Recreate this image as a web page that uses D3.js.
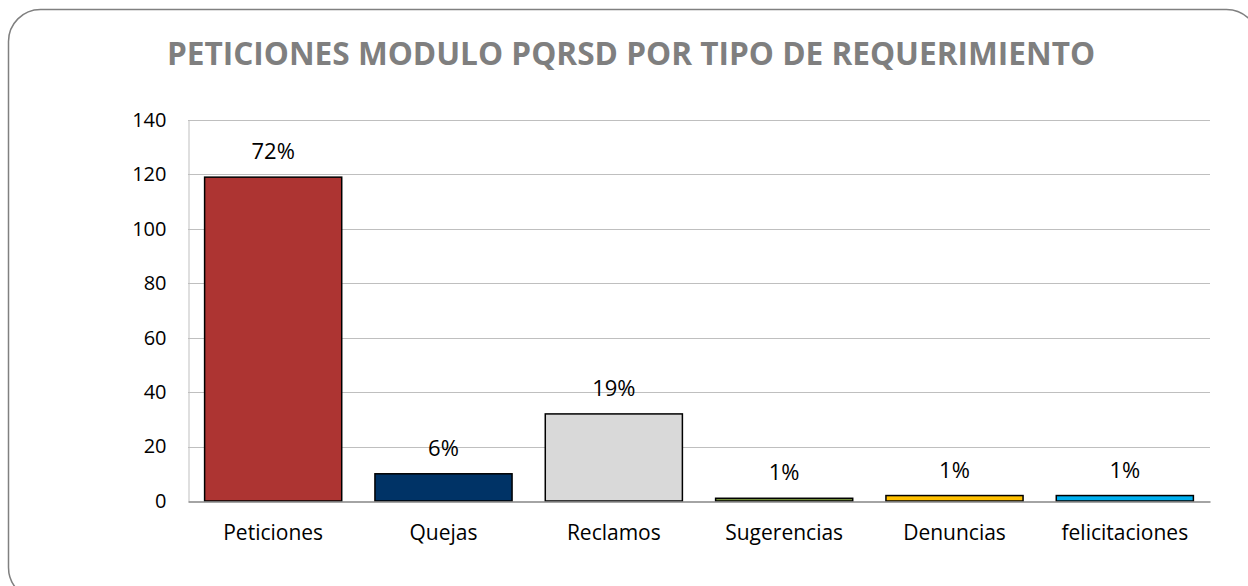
<!DOCTYPE html>
<html>
<head>
<meta charset="utf-8">
<script src="https://cdn.jsdelivr.net/npm/d3@7"></script>
<style>
  body { margin: 0; background: #fff; }
  svg { display: block; font-family: "Open Sans", Lato, sans-serif; }
</style>
</head>
<body>
<div id="chart"></div>
<script>
const categories = ["Peticiones", "Quejas", "Reclamos", "Sugerencias", "Denuncias", "felicitaciones"];
const counts = [119, 10, 32, 1, 2, 2];
const barColors = ["#AD3432", "#003366", "#D9D9D9", "#77933C", "#FFC000", "#00B0F0"];
const yTicks = [0, 20, 40, 60, 80, 100, 120, 140];
const title = "PETICIONES MODULO PQRSD POR TIPO DE REQUERIMIENTO";

const width = 1248;
const height = 586;
const margin = { top: 120, right: 38, bottom: 85, left: 188 };

const svg = d3.select("#chart")
  .append("svg")
  .attr("width", width)
  .attr("height", height);

// outer rounded frame
svg.append("rect")
  .attr("x", 8.5)
  .attr("y", 9.5)
  .attr("width", 1250)
  .attr("height", 590)
  .attr("rx", 32)
  .attr("fill", "#fff")
  .attr("stroke", "#808080")
  .attr("stroke-width", 1.5);

svg.append("text")
  .attr("x", 631)
  .attr("y", 65)
  .attr("text-anchor", "middle")
  .attr("font-size", "31.6px")
  .attr("font-weight", "bold")
  .attr("fill", "#7F7F7F")
  .text(title);

const x = d3.scaleBand()
  .domain(categories)
  .range([margin.left, width - margin.right])
  .paddingInner(0.195)
  .paddingOuter(0.0975);

const y = d3.scaleLinear()
  .domain([0, 140])
  .range([height - margin.bottom, margin.top]);

const total = d3.sum(counts);

// gridlines
svg.append("g")
  .selectAll("line")
  .data(yTicks.slice(1))
  .enter()
  .append("line")
  .attr("x1", margin.left)
  .attr("x2", width - margin.right)
  .attr("y1", (d) => Math.round(y(d)) + 0.5)
  .attr("y2", (d) => Math.round(y(d)) + 0.5)
  .attr("stroke", "#BFBFBF")
  .attr("stroke-width", 1);

// y axis
const yAxis = d3.axisLeft(y).tickValues(yTicks).tickSize(0).tickPadding(22);
const gy = svg.append("g")
  .attr("transform", `translate(${margin.left + 0.5},0)`)
  .call(yAxis);
gy.select(".domain").attr("stroke", "#BFBFBF");
gy.selectAll("text")
  .attr("font-size", "20px")
  .attr("fill", "#000")
  .attr("font-family", "'Open Sans', sans-serif");

// bars
svg.append("g")
  .selectAll("rect")
  .data(counts)
  .enter()
  .append("rect")
  .attr("x", (d, i) => x(categories[i]))
  .attr("y", (d) => y(d))
  .attr("width", x.bandwidth())
  .attr("height", (d) => y(0) - y(d))
  .attr("fill", (d, i) => barColors[i])
  .attr("stroke", "#000")
  .attr("stroke-width", 1.5);

// percent labels
svg.append("g")
  .selectAll("text")
  .data(counts)
  .enter()
  .append("text")
  .attr("x", (d, i) => x(categories[i]) + x.bandwidth() / 2)
  .attr("y", (d) => y(d) - 18)
  .attr("text-anchor", "middle")
  .attr("font-size", "22px")
  .attr("fill", "#000")
  .text((d) => Math.round((d / total) * 100) + "%");

// x axis
const xAxis = d3.axisBottom(x).tickSize(0);
const gx = svg.append("g")
  .attr("transform", `translate(0,${y(0) + 0.5})`)
  .call(xAxis);
gx.select(".domain").attr("stroke", "#868686").attr("stroke-width", 1.5);
gx.selectAll("text")
  .attr("y", 38)
  .attr("dy", null)
  .attr("font-size", "21px")
  .attr("fill", "#000")
  .attr("font-family", "'Open Sans', sans-serif");
</script>
</body>
</html>
